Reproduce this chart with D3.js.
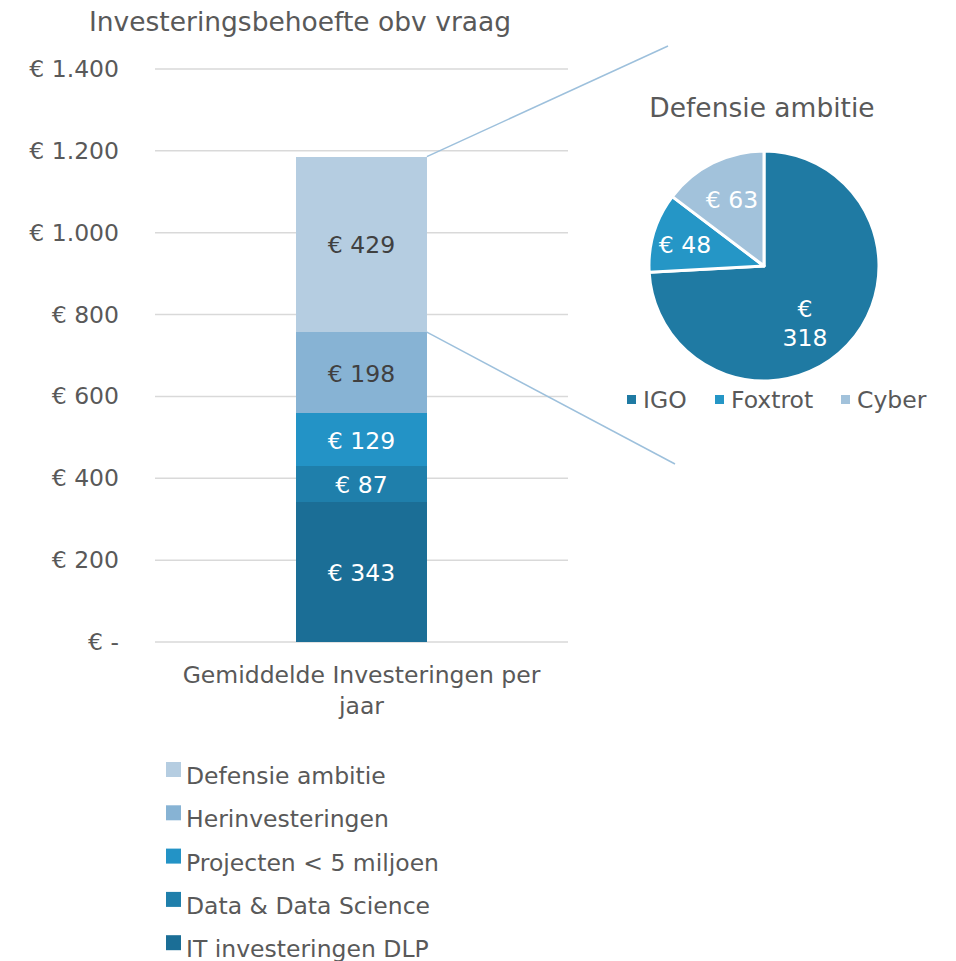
<!DOCTYPE html>
<html>
<head>
<meta charset="utf-8">
<script src="https://cdn.jsdelivr.net/npm/d3@7"></script>
<style>
  body { margin: 0; background: #fff; }
  text { font-family: "DejaVu Sans", Verdana, sans-serif; }
</style>
</head>
<body>
<script>
// bar series (bottom to top)
var series = ["IT investeringen DLP", "Data & Data Science", "Projecten < 5 miljoen", "Herinvesteringen", "Defensie ambitie"];
var values = [343, 87, 129, 198, 429];
var barColors = ["#1b6e96", "#1f7fab", "#2393c6", "#87b3d4", "#b5cde1"];
var labelColors = ["#fff", "#fff", "#fff", "#404040", "#404040"];
var category = ["Gemiddelde Investeringen per", "jaar"];
var yTicks = [0, 200, 400, 600, 800, 1000, 1200, 1400];

// pie (breakdown of Defensie ambitie)
var pieCats = ["IGO", "Foxtrot", "Cyber"];
var pieVals = [318, 48, 63];
var pieColors = ["#1f7aa3", "#2596c6", "#a2c2db"];

var W = 956, H = 961;
var svg = d3.select("body").append("svg").attr("width", W).attr("height", H);
var grey = "#595959";
var fs = 23.5;

var y = d3.scaleLinear().domain([0, 1400]).range([642, 69]);
var x = d3.scaleBand().domain(["c"]).range([155, 568]).paddingInner(0).paddingOuter(1.08);

function fmt(v) {
  if (v === 0) return "€ -";
  return "€ " + d3.format(",")(v).replace(/,/g, ".");
}

// title
svg.append("text").attr("x", 300).attr("y", 31).attr("text-anchor", "middle")
  .attr("font-size", 26.5).attr("fill", grey).text("Investeringsbehoefte obv vraag");

// grid
svg.append("g").selectAll("line").data(yTicks).enter().append("line")
  .attr("x1", 155).attr("x2", 568)
  .attr("y1", d => y(d)).attr("y2", d => y(d))
  .attr("stroke", "#d9d9d9").attr("stroke-width", 1.5);

// y tick labels
svg.append("g").selectAll("text").data(yTicks).enter().append("text")
  .attr("x", 119).attr("y", d => y(d) + 8).attr("text-anchor", "end")
  .attr("font-size", fs).attr("fill", grey).text(fmt);

// stacked bar
var stack = [];
var acc = 0;
values.forEach(function (v, i) { stack.push({ y0: acc, y1: acc + v, v: v, i: i }); acc += v; });

var bx = x("c"), bw = x.bandwidth();
svg.append("g").attr("shape-rendering", "crispEdges").selectAll("rect").data(stack).enter().append("rect")
  .attr("x", bx).attr("width", bw)
  .attr("y", d => y(d.y1)).attr("height", d => y(d.y0) - y(d.y1))
  .attr("fill", d => barColors[d.i]);

svg.append("g").selectAll("text").data(stack).enter().append("text")
  .attr("x", bx + bw / 2).attr("y", d => (y(d.y0) + y(d.y1)) / 2 + 9)
  .attr("text-anchor", "middle").attr("font-size", fs)
  .attr("fill", d => labelColors[d.i]).text(d => "€ " + d.v);

// category label
svg.append("g").selectAll("text").data(category).enter().append("text")
  .attr("x", bx + bw / 2).attr("y", (d, i) => 683 + i * 31)
  .attr("text-anchor", "middle").attr("font-size", fs).attr("fill", grey).text(d => d);

// connector lines
var topSeg = stack[4];
svg.append("line").attr("x1", bx + bw).attr("y1", y(topSeg.y1)).attr("x2", 668).attr("y2", 46)
  .attr("stroke", "#9dc0dc").attr("stroke-width", 1.5);
svg.append("line").attr("x1", bx + bw).attr("y1", y(topSeg.y0)).attr("x2", 675).attr("y2", 464)
  .attr("stroke", "#9dc0dc").attr("stroke-width", 1.5);

// legend
var leg = svg.append("g").selectAll("g").data(series.slice().reverse()).enter().append("g")
  .attr("transform", (d, i) => "translate(166," + (776 + i * 43.3) + ")");
leg.append("rect").attr("x", 0).attr("y", -14).attr("width", 15).attr("height", 15)
  .attr("fill", d => barColors[series.indexOf(d)]);
leg.append("text").attr("x", 20).attr("y", 8).attr("font-size", fs).attr("fill", grey).text(d => d);

// pie
var cx = 764, cy = 266, R = 115;
svg.append("text").attr("x", 762).attr("y", 117).attr("text-anchor", "middle")
  .attr("font-size", 26.5).attr("fill", grey).text("Defensie ambitie");

var pie = d3.pie().sort(null)(pieVals);
var arc = d3.arc().innerRadius(0).outerRadius(R);
var pg = svg.append("g").attr("transform", "translate(" + cx + "," + cy + ")");
pg.selectAll("path").data(pie).enter().append("path")
  .attr("d", arc).attr("fill", (d, i) => pieColors[i])
  .attr("stroke", "#fff").attr("stroke-width", 3).attr("stroke-linejoin", "round");

var pieLabelPos = [[41, 51], [-79, -13], [-32, -58]];
pg.selectAll("text.pl").data(pie).enter().append("text").attr("class", "pl")
  .attr("text-anchor", "middle").attr("font-size", fs).attr("fill", "#fff")
  .each(function (d, i) {
    var t = d3.select(this);
    var p = pieLabelPos[i];
    if (i === 0) {
      t.append("tspan").attr("x", p[0]).attr("y", p[1]).text("€");
      t.append("tspan").attr("x", p[0]).attr("y", p[1] + 29).text(d.data);
    } else {
      t.append("tspan").attr("x", p[0]).attr("y", p[1]).text("€ " + d.data);
    }
  });

// pie legend
var pl = [627, 715, 841];
var plg = svg.append("g").selectAll("g").data(pieCats).enter().append("g")
  .attr("transform", (d, i) => "translate(" + pl[i] + ",408)");
plg.append("rect").attr("x", 0).attr("y", -13).attr("width", 9).attr("height", 9)
  .attr("fill", (d, i) => pieColors[i]);
plg.append("text").attr("x", 16).attr("y", 0).attr("font-size", fs).attr("fill", grey).text(d => d);
</script>
</body>
</html>
